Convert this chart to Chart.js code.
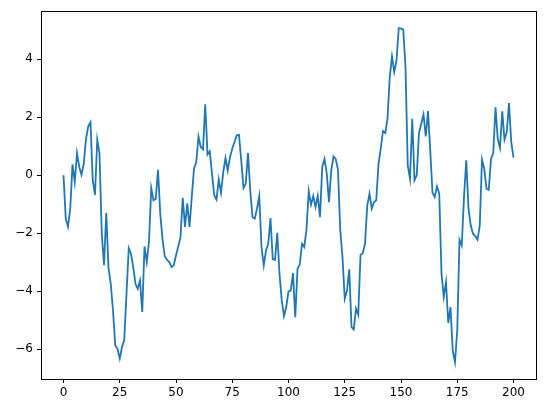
<!DOCTYPE html>
<html>
<head>
<meta charset="utf-8">
<script src="https://cdn.jsdelivr.net/npm/chart.js@4"></script>
<style>
  html, body { margin: 0; padding: 0; background: #fff; }
  canvas { display: block; }
</style>
</head>
<body>
<canvas id="grafico" width="546" height="413"></canvas>
<script>
// valores (passeio aleatorio, 201 pontos)
const valores = [
  0.0, -1.5, -1.78, -1.16, 0.37, -0.24, 0.76, 0.28, 0.01, 0.39,
  1.25, 1.68, 1.82, -0.18, -0.68, 1.22, 0.74, -2.0, -3.11, -1.31,
  -3.2, -3.75, -4.67, -5.87, -5.99, -6.33, -5.93, -5.68, -4.09, -2.52,
  -2.71, -3.17, -3.75, -3.92, -3.63, -4.72, -2.46, -3.0, -2.3, -0.45,
  -0.87, -0.82, 0.18, -1.33, -2.2, -2.8, -2.92, -3.0, -3.17, -3.11,
  -2.77, -2.46, -2.14, -0.78, -1.79, -0.97, -1.79, -0.76, 0.22, 0.45,
  1.33, 0.97, 0.89, 2.44, 0.71, 0.82, 0.05, -0.7, -0.85, -0.15,
  -0.61, 0.1, 0.59, 0.16, 0.62, 0.91, 1.14, 1.37, 1.39, 0.5,
  -0.45, -0.3, 0.76, -0.53, -1.45, -1.5, -1.16, -0.72, -2.48, -3.11,
  -2.6, -2.37, -1.48, -2.9, -2.92, -1.99, -3.4, -4.32, -4.86, -4.55,
  -4.01, -3.98, -3.38, -4.9, -3.23, -3.08, -2.37, -2.48, -1.87, -0.55,
  -1.02, -0.72, -1.1, -0.72, -1.45, 0.28, 0.56, 0.05, -0.93, 0.16,
  0.64, 0.56, 0.18, -1.9, -2.83, -4.26, -3.98, -3.25, -5.24, -5.32,
  -4.6, -4.82, -2.75, -2.69, -2.37, -1.05, -0.64, -1.16, -0.93, -0.87,
  0.39, 0.91, 1.52, 1.45, 1.94, 3.38, 4.09, 3.55, 3.95, 5.07,
  5.05, 5.02, 3.72, 0.33, -0.13, 1.94, -0.18, 0.0, 1.45, 1.77,
  2.09, 1.33, 2.21, 0.85, -0.61, -0.76, -0.39, -0.64, -3.4, -4.2,
  -3.69, -5.1, -4.55, -6.05, -6.45, -5.36, -2.23, -2.43, -0.76, 0.51,
  -1.16, -1.74, -2.02, -2.1, -2.23, -1.74, 0.53, 0.22, -0.47, -0.51,
  0.56, 0.76, 2.34, 1.25, 0.94, 2.2, 1.22, 1.48, 2.48, 1.14,
  0.6
];

// indices do eixo x (0..200)
const passos = valores.map((v, i) => i);

// rotulos dos eixos
const ticksX = [0, 25, 50, 75, 100, 125, 150, 175, 200];
const ticksY = [-6, -4, -2, 0, 2, 4];

// desenha a moldura completa (estilo matplotlib)
const moldura = {
  id: 'moldura',
  afterDraw(chart) {
    const { ctx, chartArea: a } = chart;
    ctx.save();
    ctx.strokeStyle = '#000';
    ctx.lineWidth = 1;
    ctx.strokeRect(Math.round(a.left) + 0.5, Math.round(a.top) + 0.5,
      Math.round(a.right - a.left), Math.round(a.bottom - a.top));
    ctx.restore();
  }
};

document.addEventListener('DOMContentLoaded', function () {
  const ctx = document.getElementById('grafico').getContext('2d');

  const fonte = { family: 'DejaVu Sans', size: 12 };

  new Chart(ctx, {
    type: 'line',
    data: {
      datasets: [{
        data: passos.map((x, i) => ({ x: x, y: valores[i] })),
        borderColor: '#1f77b4',
        borderWidth: 1.8,
        pointRadius: 0,
        tension: 0,
        fill: false
      }]
    },
    options: {
      responsive: false,
      animation: false,
      devicePixelRatio: 1,
      layout: { padding: { left: 0, right: 10, top: 10, bottom: 0 } },
      plugins: {
        legend: { display: false },
        tooltip: { enabled: false }
      },
      scales: {
        x: {
          type: 'linear',
          min: -10,
          max: 210,
          afterBuildTicks: (axis) => { axis.ticks = ticksX.map(v => ({ value: v })); },
          afterFit: (scale) => { scale.height = 34; },
          grid: { drawOnChartArea: false, drawTicks: true, tickLength: 4, color: '#000' },
          border: { display: true, color: '#000' },
          ticks: { color: '#000', font: fonte, padding: 3, maxRotation: 0,
            callback: (v) => String(v) }
        },
        y: {
          type: 'linear',
          min: -7.03,
          max: 5.65,
          afterBuildTicks: (axis) => { axis.ticks = ticksY.map(v => ({ value: v })); },
          afterFit: (scale) => { scale.width = 41; },
          grid: { drawOnChartArea: false, drawTicks: true, tickLength: 4, color: '#000' },
          border: { display: true, color: '#000' },
          ticks: { color: '#000', font: fonte, padding: 4,
            callback: (v) => v < 0 ? '\u2212' + Math.abs(v) : String(v) }
        }
      }
    },
    plugins: [moldura]
  });
});
</script>
</body>
</html>
